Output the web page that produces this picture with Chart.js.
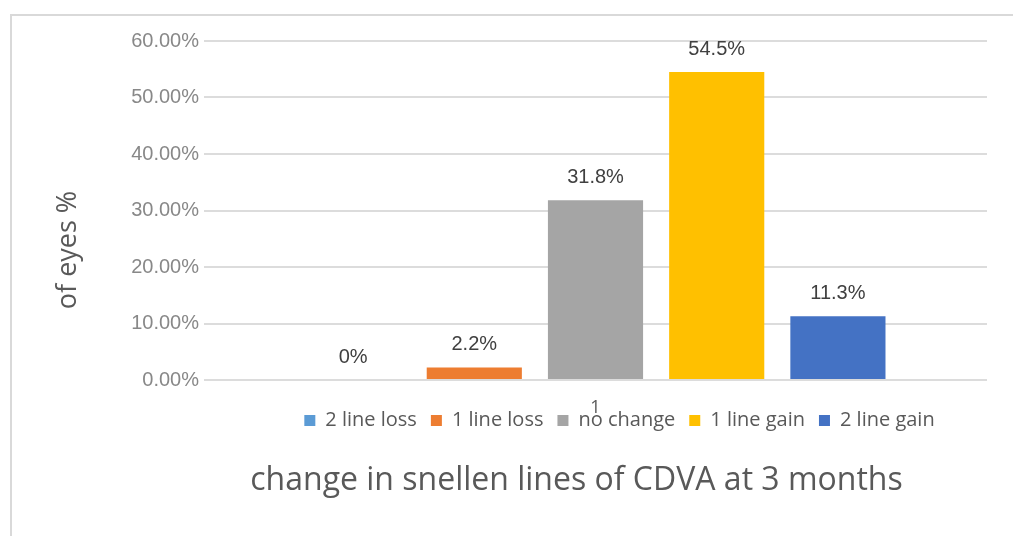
<!DOCTYPE html>
<html>
<head>
<meta charset="utf-8">
<script src="https://cdn.jsdelivr.net/npm/chart.js@4/dist/chart.umd.min.js"></script>
<style>
  html, body { margin: 0; padding: 0; background: #fff; }
  #wrap { position: relative; width: 1013px; height: 536px; overflow: hidden; }
  #frame { position: absolute; left: 10px; top: 14px; right: -5px; bottom: -5px;
           border-top: 2px solid #d9d9d9; border-left: 2px solid #d9d9d9; }
  canvas { position: absolute; left: 0; top: 0; }
</style>
</head>
<body>
<div id="wrap">
  <div id="frame"></div>
  <canvas id="chart" width="1013" height="536"></canvas>
</div>
<script>
const categories = ['1'];
const seriesNames = ['2 line loss', '1 line loss', 'no change', '1 line gain', '2 line gain'];
const seriesValues = [0, 2.2, 31.8, 54.5, 11.3];
const valueLabels = ['0%', '2.2%', '31.8%', '54.5%', '11.3%'];
const seriesColors = ['#5B9BD5', '#ED7D31', '#A5A5A5', '#FFC000', '#4472C4'];
const yTicks = [0, 10, 20, 30, 40, 50, 60];

const datasets = seriesNames.map((name, i) => ({
    label: name,
    data: [seriesValues[i]],
    backgroundColor: seriesColors[i],
    borderWidth: 0,
    categoryPercentage: 0.774,
    barPercentage: 0.785
}));

// value labels above each bar
const barLabels = {
    id: 'barLabels',
    afterDatasetsDraw(chart) {
        const ctx = chart.ctx;
        ctx.save();
        ctx.font = '20px "Liberation Sans", Arial, sans-serif';
        ctx.fillStyle = '#404040';
        ctx.textAlign = 'center';
        ctx.textBaseline = 'middle';
        chart.data.datasets.forEach((ds, i) => {
            const bar = chart.getDatasetMeta(i).data[0];
            ctx.fillText(valueLabels[i], bar.x, bar.y - 23);
        });
        ctx.restore();
    }
};

// layout tweaks to match the original: legend and title sit right of centre,
// the x tick label overlaps the legend, y title sits low
const tweaks = {
    id: 'tweaks',
    afterLayout(chart) {
        chart.scales.x.bottom += 30;
        chart.legend.left += 126;
        chart.legend.right += 126;
        chart.titleBlock.left += 83;
        chart.titleBlock.right += 83;
    },
    afterDraw(chart) {
        const ctx = chart.ctx;
        ctx.save();
        ctx.translate(68, 250);
        ctx.rotate(-Math.PI / 2);
        ctx.font = '27px "Open Sans", sans-serif';
        ctx.fillStyle = '#595959';
        ctx.textAlign = 'center';
        ctx.textBaseline = 'middle';
        ctx.fillText('of eyes %', 0, 0);
        ctx.restore();
    }
};

new Chart(document.getElementById('chart'), {
    type: 'bar',
    data: { labels: categories, datasets: datasets },
    options: {
        responsive: false,
        animation: false,
        layout: { padding: { top: 41, right: 26, left: 0, bottom: 25.8 } },
        scales: {
            x: {
                grid: { display: false, drawTicks: false },
                border: { display: false },
                ticks: {
                    color: '#595959',
                    font: { family: '"Open Sans", sans-serif', size: 18 },
                    padding: 17
                },
                afterFit(scale) { scale.height = 16.5; }
            },
            y: {
                min: 0,
                max: 60,
                afterBuildTicks(scale) { scale.ticks = yTicks.map(v => ({ value: v })); },
                grid: { color: '#dcdcdc', lineWidth: 2, drawTicks: false },
                border: { display: false },
                ticks: {
                    color: '#888888',
                    font: { family: '"Liberation Sans", Arial, sans-serif', size: 20 },
                    padding: 5,
                    callback: v => v.toFixed(2) + '%'
                },
                afterFit(scale) { scale.width = 204; }
            }
        },
        plugins: {
            legend: {
                position: 'bottom',
                labels: {
                    boxWidth: 11,
                    boxHeight: 11,
                    padding: 14,
                    color: '#595959',
                    font: { family: '"Open Sans", sans-serif', size: 20 }
                }
            },
            title: {
                display: true,
                position: 'bottom',
                text: 'change in snellen lines of CDVA at 3 months',
                color: '#595959',
                font: { family: '"Open Sans", sans-serif', size: 32, weight: 'normal' },
                padding: { top: 21.3, bottom: 10 }
            },
            tooltip: { enabled: false }
        }
    },
    plugins: [barLabels, tweaks]
});
</script>
</body>
</html>
